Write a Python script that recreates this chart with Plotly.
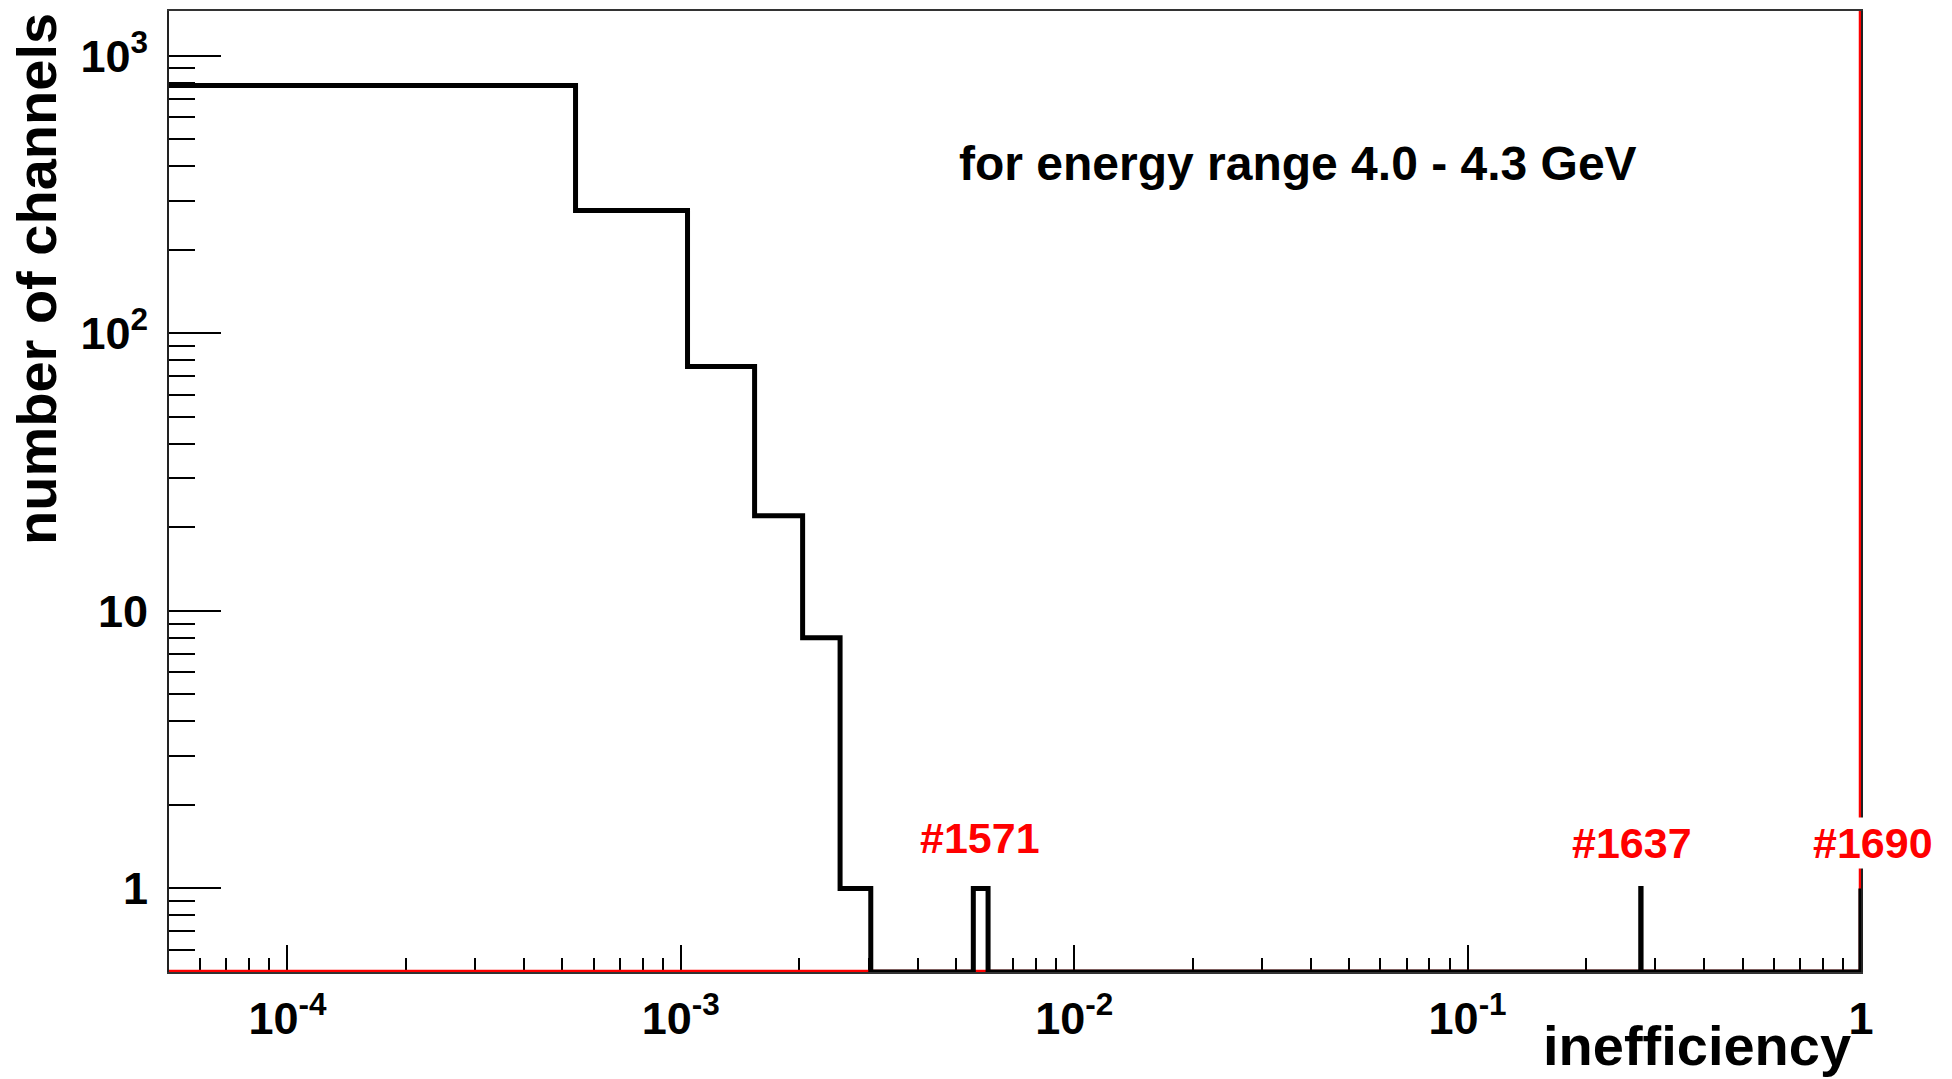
import math
import plotly.graph_objects as go

# ---- data ----
bin_width = 5e-4
bin_low_edges = [4e-5, 5.4e-4, 1.04e-3, 1.54e-3, 2.04e-3, 2.54e-3, 5.54e-3, 0.2755, 0.9995]
bin_counts = [782, 277, 76, 22, 8, 1, 1, 1, 1]

channel_labels = ["#1571", "#1637", "#1690"]
channel_x = [5.75e-3, 0.262, None]  # last label sits just right of the frame

x_tick_vals = [1e-4, 1e-3, 1e-2, 1e-1, 1]
x_tick_text = ["10<sup>-4</sup>", "10<sup>-3</sup>", "10<sup>-2</sup>", "10<sup>-1</sup>", "1"]
y_tick_vals = [1, 10, 100, 1000]
y_tick_text = ["1", "10", "10<sup>2</sup>", "10<sup>3</sup>"]

x_min, x_max = 5e-5, 1.0
y_min, y_max = 0.5, 1450.0

# ---- build histogram outline ----
xs, ys = [], []
prev_hi = None
for lo, c in zip(bin_low_edges, bin_counts):
    hi = lo + bin_width
    lo_d = max(lo, x_min)
    if prev_hi is not None and lo > prev_hi + 1e-9:
        xs += [prev_hi, lo_d]
        ys += [y_min, y_min]
    xs += [lo_d, hi]
    ys += [max(c, y_min), max(c, y_min)]
    prev_hi = hi
xs.append(min(prev_hi, x_max))
ys.append(y_min)

FONT = "Liberation Sans"

fig = go.Figure()
# red reference outline (bottom + right edge)
fig.add_trace(go.Scatter(x=[x_min, x_max, x_max], y=[y_min, y_min, y_max * 2],
                         mode="lines", line=dict(color="red", width=4.5),
                         hoverinfo="skip", showlegend=False))
fig.add_trace(go.Scatter(x=xs, y=ys, mode="lines",
                         line=dict(color="black", width=5),
                         showlegend=False))

minor_x = [k * 10 ** d for d in range(-5, 0) for k in range(2, 10)]
minor_y = [k * 10 ** d for d in range(-1, 4) for k in range(2, 10)]

fig.update_xaxes(type="log", range=[math.log10(x_min), math.log10(x_max)],
                 showline=True, linecolor="#333", linewidth=2, mirror=True,
                 layer="below traces",
                 showgrid=False, zeroline=False,
                 ticks="inside", ticklen=27, tickwidth=2, tickcolor="black",
                 ticklabelstandoff=6,
                 tickmode="array", tickvals=x_tick_vals, ticktext=x_tick_text,
                 tickfont=dict(family=FONT, size=45, color="black", weight="bold"),
                 minor=dict(tickmode="array", tickvals=minor_x, ticks="inside",
                            ticklen=14, tickwidth=1.5, tickcolor="black", showgrid=False))
fig.update_yaxes(type="log", range=[math.log10(y_min), math.log10(y_max)],
                 showline=True, linecolor="#222", linewidth=2, mirror=True,
                 layer="below traces",
                 showgrid=False, zeroline=False,
                 ticks="inside", ticklen=52, tickwidth=2, tickcolor="black",
                 ticklabelstandoff=10,
                 tickmode="array", tickvals=y_tick_vals, ticktext=y_tick_text,
                 tickfont=dict(family=FONT, size=45, color="black", weight="bold"),
                 minor=dict(tickmode="array", tickvals=minor_y, ticks="inside",
                            ticklen=26, tickwidth=1.5, tickcolor="black", showgrid=False))

annotations = [
    dict(text="for energy range 4.0 - 4.3 GeV", xref="paper", yref="paper",
         x=0.667, y=0.841, xanchor="center", yanchor="middle", showarrow=False,
         font=dict(family=FONT, size=48, color="black", weight="bold")),
    dict(text="number of channels", xref="paper", yref="paper",
         x=0, xshift=-133, y=1, yanchor="top", xanchor="center", textangle=-90,
         showarrow=False,
         font=dict(family=FONT, size=56, color="black", weight="bold")),
    dict(text="inefficiency", xref="paper", yref="paper",
         x=1, y=0, xanchor="right", yanchor="bottom", yshift=-107, xshift=-8,
         showarrow=False,
         font=dict(family=FONT, size=56, color="black", weight="bold")),
]
for lab, cx in zip(channel_labels, channel_x):
    if cx is None:
        annotations.append(dict(text=lab, xref="paper", yref="paper", x=1, xshift=12,
                                y=0.134, xanchor="center", yanchor="middle", showarrow=False,
                                bgcolor="white",
                                font=dict(family=FONT, size=43, color="red", weight="bold")))
    else:
        annotations.append(dict(text=lab, xref="x", yref="paper", x=math.log10(cx),
                                y=0.139 if lab == "#1571" else 0.134,
                                xanchor="center", yanchor="middle", showarrow=False,
                                bgcolor="white",
                                font=dict(family=FONT, size=43, color="red", weight="bold")))

fig.update_layout(width=1952, height=1079,
                  margin=dict(l=169, r=91, t=9, b=107),
                  paper_bgcolor="white", plot_bgcolor="white",
                  annotations=annotations)

fig.write_html("out.html")
